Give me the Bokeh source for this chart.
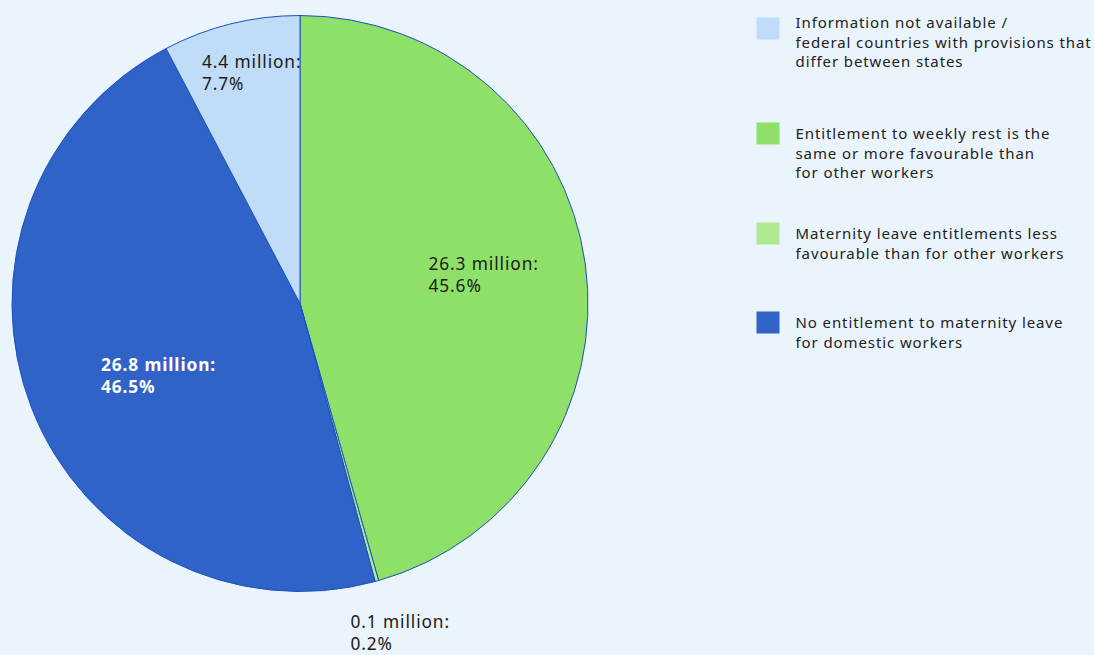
import math
from bokeh.plotting import figure
from bokeh.models import Range1d, ColumnDataSource
from bokeh.core.properties import value
from bokeh.embed import file_html
from bokeh.resources import INLINE

# ---- data ----
categories = [
    "Entitlement to weekly rest is the\nsame or more favourable than\nfor other workers",
    "Maternity leave entitlements less\nfavourable than for other workers",
    "No entitlement to maternity leave\nfor domestic workers",
    "Information not available /\nfederal countries with provisions that\ndiffer between states",
]
millions = [26.3, 0.1, 26.8, 4.4]
percents = [45.6, 0.2, 46.5, 7.7]
colors = ["#8EE068", "#AFEA93", "#3063C7", "#BFDCF9"]
legend_order = [3, 0, 1, 2]

# ---- layout ----
W, H = 1094, 655
BG = "#EAF4FD"
FONT = "Noto Sans"
TXT_SHIFT = -7.5
def Y(screen_y):
    return H - screen_y
def X(screen_x):
    return screen_x

cx, cy, R = X(299.5), Y(303), 288

p = figure(width=W, height=H, output_backend="svg", toolbar_location=None,
           x_range=Range1d(0, W), y_range=Range1d(0, H), min_border=0)
p.axis.visible = False
p.grid.visible = False
p.outline_line_color = None
p.background_fill_color = BG
p.border_fill_color = BG

total = sum(percents)
starts, ends = [], []
cum = 0.0
for v in percents:
    starts.append(math.pi / 2 - cum / total * 2 * math.pi)
    cum += v
    ends.append(math.pi / 2 - cum / total * 2 * math.pi)

src = ColumnDataSource(dict(x=[cx] * 4, y=[cy] * 4, s=starts, e=ends, c=colors))
p.wedge(x="x", y="y", radius=R, radius_units="screen", start_angle="s", end_angle="e",
        direction="clock", fill_color="c", line_color="#1E50C0", line_width=1, source=src)

# data labels
label_pos = [(428, 270.5), (350, 628.5), (100.5, 371), (201.5, 68.5)]
label_col = ["#1a1a1a", "#1a1a1a", "#ffffff", "#1a1a1a"]
label_wt = ["normal", "normal", "bold", "normal"]
for i in range(4):
    lines = [f"{millions[i]} million:", f"{percents[i]}%"]
    sx, sy = label_pos[i]
    for j, t in enumerate(lines):
        p.text(x=[X(sx)], y=[Y(sy + 22 * j + TXT_SHIFT)], text=[t], text_font=value(FONT),
               text_font_size="17.3px", text_color=label_col[i], text_font_style=label_wt[i],
               text_baseline="alphabetic", text_align="left")

# legend
sq_centers = [28, 133, 233, 322]
txt_base = [29.3, 140, 240, 329]
for k, idx in enumerate(legend_order):
    p.rect(x=[X(767.5)], y=[Y(sq_centers[k])], width=23, height=22,
           width_units="screen", height_units="screen", fill_color=colors[idx], line_color=None)
    for j, t in enumerate(categories[idx].split("\n")):
        p.text(x=[X(795)], y=[Y(txt_base[k] + 19.5 * j + TXT_SHIFT)], text=[t], text_font=value(FONT),
               text_font_size="15px", text_color="#222222",
               text_baseline="alphabetic", text_align="left")

html = file_html(p, INLINE)
html = html.replace("</head>",
                    "<style>html,body{background:%s;letter-spacing:0.9px;}</style></head>" % BG, 1)
open("out.html", "w").write(html)
